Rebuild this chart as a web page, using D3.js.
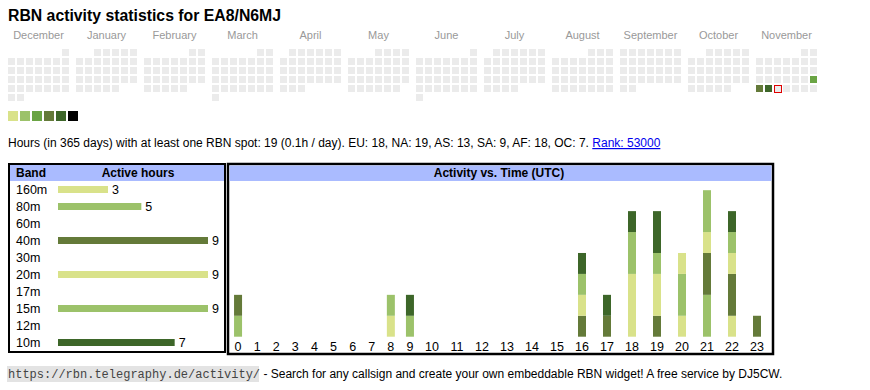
<!DOCTYPE html>
<html>
<head>
<meta charset="utf-8">
<script src="https://cdn.jsdelivr.net/npm/d3@7"></script>
<style>
body { margin: 0; background: #fff; }
svg { font-family: Arial, "Liberation Sans", sans-serif; }
</style>
</head>
<body>
<div id="vis"></div>
<script>
// ---- data ----
const callsign = "EA8/N6MJ";
const monthNames = ["December","January","February","March","April","May","June","July","August","September","October","November"];
const activeDays = [["2025-11-23", 3], ["2025-11-24", 4], ["2025-11-25", 5]];
const today = "2025-11-26";
const levelColors = ["#d9e28a", "#9cc26a", "#6aa444", "#647a39", "#3d6629", "#000000"];

const bands = ["160m","80m","60m","40m","30m","20m","17m","15m","12m","10m"];
const bandColors = ["#d9e28a","#9cc26a","#6aa444","#647a39","#3d6629","#d9e28a","#6aa444","#9cc26a","#647a39","#3d6629"];
const bandHours = [3, 5, 0, 9, 0, 9, 0, 9, 0, 7];
const hourLabels = d3.range(24);

// hours of activity per band, index = UTC hour
const h160 = [0,0,0,0,0,0,0,0,1,0, 0,0,0,0,0,0,0,0,0,0, 1,0,1,0];
const h80  = [1,0,0,0,0,0,0,0,0,0, 0,0,0,0,0,0,0,0,0,0, 2,2,0,0];
const h60  = [0,0,0,0,0,0,0,0,0,0, 0,0,0,0,0,0,0,0,0,0, 0,0,0,0];
const h40  = [1,0,0,0,0,0,0,0,0,0, 0,0,0,0,0,0,1,1,0,1, 0,2,2,1];
const h30  = [0,0,0,0,0,0,0,0,0,0, 0,0,0,0,0,0,0,0,0,0, 0,0,0,0];
const h20  = [0,0,0,0,0,0,0,0,0,0, 0,0,0,0,0,0,1,0,3,2, 1,1,1,0];
const h17  = [0,0,0,0,0,0,0,0,0,0, 0,0,0,0,0,0,0,0,0,0, 0,0,0,0];
const h15  = [0,0,0,0,0,0,0,0,1,1, 0,0,0,0,0,0,1,0,2,1, 0,2,1,0];
const h12  = [0,0,0,0,0,0,0,0,0,0, 0,0,0,0,0,0,0,0,0,0, 0,0,0,0];
const h10  = [0,0,0,0,0,0,0,0,0,1, 0,0,0,0,0,0,1,1,1,2, 0,0,1,0];
const hourly = [h160, h80, h60, h40, h30, h20, h17, h15, h12, h10];

const summary = "Hours (in 365 days) with at least one RBN spot: 19 (0.1h / day). EU: 18, NA: 19, AS: 13, SA: 9, AF: 18, OC: 7. ";
const rankText = "Rank: 53000";

// ---- drawing ----
const width = 870, height = 390;
const svg = d3.select("#vis").append("svg")
  .attr("width", width).attr("height", height);

svg.append("text").text("RBN activity statistics for " + callsign)
  .attr("x", 8).attr("y", 21)
  .style("font-size", "15.8px").style("font-weight", "bold").attr("fill", "#000");

// calendar
const cell = 7, pitch = 9, monthPitch = 68, calX = 8, calY = 49;
const start = new Date(2024, 11, 1), end = new Date(2025, 11, 1);
const days = d3.timeDay.range(start, end);
const fmt = d3.timeFormat("%Y-%m-%d");
const levelOf = new Map(activeDays);
const monthIndex = d => (d.getFullYear() - 2024) * 12 + d.getMonth() - 11;
const weekday = d => (d.getDay() + 6) % 7;

const cal = svg.append("g");
cal.selectAll("text.month").data(monthNames).join("text")
  .attr("class", "month")
  .attr("x", (d, i) => calX + i * monthPitch + (7 * pitch - 2) / 2)
  .attr("y", 39)
  .attr("text-anchor", "middle")
  .style("font-size", "11px").attr("fill", "#999")
  .text(d => d);

cal.selectAll("rect.day").data(days).join("rect")
  .attr("class", "day")
  .attr("x", d => calX + monthIndex(d) * monthPitch + weekday(d) * pitch)
  .attr("y", d => {
    const first = weekday(new Date(d.getFullYear(), d.getMonth(), 1));
    return calY + Math.floor((d.getDate() - 1 + first) / 7) * pitch;
  })
  .attr("width", cell).attr("height", cell)
  .attr("fill", d => levelOf.has(fmt(d)) ? levelColors[levelOf.get(fmt(d)) - 1] : "#ebebeb");

const t = days.find(d => fmt(d) === today);
if (t) {
  const first = weekday(new Date(t.getFullYear(), t.getMonth(), 1));
  cal.append("rect")
    .attr("x", calX + monthIndex(t) * monthPitch + weekday(t) * pitch + 0.5)
    .attr("y", calY + Math.floor((t.getDate() - 1 + first) / 7) * pitch + 0.5)
    .attr("width", cell).attr("height", cell)
    .attr("fill", "none").attr("stroke", "#e00000").attr("stroke-width", 1);
}

// legend
svg.append("g").selectAll("rect").data(levelColors).join("rect")
  .attr("x", (d, i) => 8 + i * 12).attr("y", 111)
  .attr("width", 10).attr("height", 10)
  .attr("fill", d => d);

// summary line
const sum = svg.append("text").attr("x", 8).attr("y", 147).style("font-size", "12px");
sum.append("tspan").text(summary);
sum.append("tspan").text(rankText).attr("fill", "#0000ee").style("text-decoration", "underline");

// band table
const bt = svg.append("g");
bt.append("rect").attr("x", 9).attr("y", 164).attr("width", 216).attr("height", 188)
  .attr("fill", "#fff").attr("stroke", "#000").attr("stroke-width", 2);
bt.append("rect").attr("x", 10).attr("y", 165).attr("width", 214).attr("height", 16).attr("fill", "#aabbff");
bt.append("text").text("Band").attr("x", 16).attr("y", 177)
  .style("font-size", "12px").style("font-weight", "bold");
bt.append("text").text("Active hours").attr("x", 138).attr("y", 177).attr("text-anchor", "middle")
  .style("font-size", "12px").style("font-weight", "bold");

const yBand = d3.scaleBand().domain(bands).range([181, 351]);
const xBand = d3.scaleLinear().domain([0, 9]).range([58, 208]);

bt.selectAll("text.band").data(bands).join("text")
  .attr("class", "band")
  .attr("x", 16).attr("y", d => yBand(d) + yBand.bandwidth() / 2 + 4.5)
  .style("font-size", "12.5px").text(d => d);

const bandRows = bands.map((b, i) => ({ band: b, hours: bandHours[i], color: bandColors[i] }))
  .filter(d => d.hours > 0);
bt.selectAll("rect.bar").data(bandRows).join("rect")
  .attr("class", "bar")
  .attr("x", xBand(0)).attr("y", d => yBand(d.band) + yBand.bandwidth() / 2 - 3.5)
  .attr("width", d => xBand(d.hours) - xBand(0)).attr("height", 7)
  .attr("fill", d => d.color);
bt.selectAll("text.val").data(bandRows).join("text")
  .attr("class", "val")
  .attr("x", d => xBand(d.hours) + 4).attr("y", d => yBand(d.band) + yBand.bandwidth() / 2 + 4.5)
  .style("font-size", "12.5px").text(d => d.hours);

// activity vs time
const at = svg.append("g");
at.append("rect").attr("x", 228).attr("y", 164).attr("width", 545).attr("height", 190)
  .attr("fill", "#fff").attr("stroke", "#000").attr("stroke-width", 2.5);
at.append("rect").attr("x", 229.5).attr("y", 165.5).attr("width", 542).attr("height", 15.5).attr("fill", "#aabbff");
at.append("text").text("Activity vs. Time (UTC)").attr("x", 499).attr("y", 177).attr("text-anchor", "middle")
  .style("font-size", "12px").style("font-weight", "bold");

// column widths follow the label width like a table cell
const colW = h => String(h).length === 1 ? 19.1 : 25.0;
let acc = 228.5;
const centers = hourLabels.map(h => { const c = acc + colW(h) / 2; acc += colW(h); return c; });
const xHour = d3.scaleOrdinal().domain(hourLabels).range(centers);

const table = hourLabels.map(h => {
  const row = { hour: h };
  bands.forEach((b, i) => row[b] = hourly[i][h]);
  return row;
});
const series = d3.stack().keys(bands)(table);
const yAct = d3.scaleLinear()
  .domain([0, d3.max(table, r => d3.sum(bands, b => r[b]))])
  .range([336.7, 190.2]);

at.selectAll("g.series").data(series).join("g")
  .attr("class", "series")
  .attr("fill", (d, i) => bandColors[i])
  .selectAll("rect").data(d => d.filter(s => s[1] > s[0])).join("rect")
  .attr("x", d => xHour(d.data.hour) - 4)
  .attr("y", d => yAct(d[1]))
  .attr("width", 8)
  .attr("height", d => yAct(d[0]) - yAct(d[1]));

at.selectAll("text.hour").data(hourLabels).join("text")
  .attr("class", "hour")
  .attr("x", d => xHour(d)).attr("y", 350.5).attr("text-anchor", "middle")
  .style("font-size", "12.5px").text(d => d);

// footer
const ft = svg.append("g");
ft.append("rect").attr("x", 7).attr("y", 366).attr("width", 252).attr("height", 16).attr("fill", "#e3e3e3");
const foot = ft.append("text").attr("x", 8).attr("y", 378);
foot.append("tspan").text("https://rbn.telegraphy.de/activity/")
  .style("font-family", "'Liberation Mono', 'Courier New', monospace").style("font-size", "12px").attr("fill", "#444");
foot.append("tspan").text(" - Search for any callsign and create your own embeddable RBN widget! A free service by DJ5CW.")
  .style("font-size", "12px");
</script>
</body>
</html>
